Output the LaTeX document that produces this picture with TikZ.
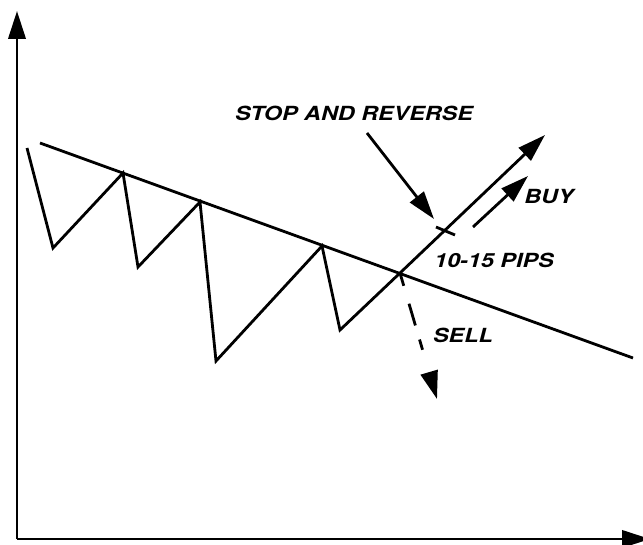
\documentclass[tikz,border=0pt]{standalone}
\usepackage{graphicx}
\usepackage{fontspec}
\setmainfont{TeX Gyre Heros}
\usetikzlibrary{arrows.meta}
\tikzset{
  ln/.style={line width=2.1pt, line join=miter},
  head/.style={-{Triangle[length=21pt,width=13pt]}},
  lbl/.style={inner sep=0pt, font=\fontsize{14.6pt}{16pt}\selectfont\bfseries\itshape},
}
\newcommand{\wide}[1]{\scalebox{1.2}[1]{#1}}
\begin{document}
\begin{tikzpicture}[x=0.75pt,y=-0.75pt]
\useasboundingbox (0,0) rectangle (643,545);
\fill[white] (0,0) rectangle (643,545);
% axes
\coordinate (o) at (17,539);
\coordinate (ytop) at (17,11);
\coordinate (xend) at (650,539);
\draw[ln,head] (o) -- (ytop);
\draw[ln,head] (o) -- (xend);
% trend line
\coordinate (t0) at (40,143);
\coordinate (t1) at (633,358);
\draw[ln] (t0) -- (t1);
% zigzag
\coordinate (p0) at (27,148);
\coordinate (p1) at (53,248);
\coordinate (p2) at (123,173);
\coordinate (p3) at (138,267);
\coordinate (p4) at (200,202);
\coordinate (p5) at (216,361);
\coordinate (p6) at (322,246);
\coordinate (p7) at (340,330);
\coordinate (x) at (400,273);
\coordinate (buytip) at (545,135);
\draw[ln] (p0) -- (p1) -- (p2) -- (p3) -- (p4) -- (p5) -- (p6) -- (p7) -- (x);
\draw[ln,head] (x) -- (buytip);
% tick
\coordinate (k0) at (436,227);
\coordinate (k1) at (455,235);
\draw[ln] (k0) -- (k1);
% stop and reverse arrow
\coordinate (s0) at (367,133);
\coordinate (s1) at (434,219);
\draw[ln,head] (s0) -- (s1);
% small buy arrow
\coordinate (b0) at (473,227);
\coordinate (b1) at (528,176);
\draw[ln,head] (b0) -- (b1);
% sell dashed arrow
\coordinate (selltip) at (437,399);
\draw[ln,head,dash pattern=on 10pt off 14pt on 17pt off 11pt on 8pt off 30pt] (x) -- (selltip);
% labels
\node[lbl] (stop) at (354,113) {\wide{STOP AND REVERSE}};
\node[lbl] (buy) at (549,197) {\wide{BUY}};
\node[lbl] (pips) at (494,260) {\wide{10-15 PIPS}};
\node[lbl] (sell) at (463,335) {\wide{SELL}};
\end{tikzpicture}
\end{document}
